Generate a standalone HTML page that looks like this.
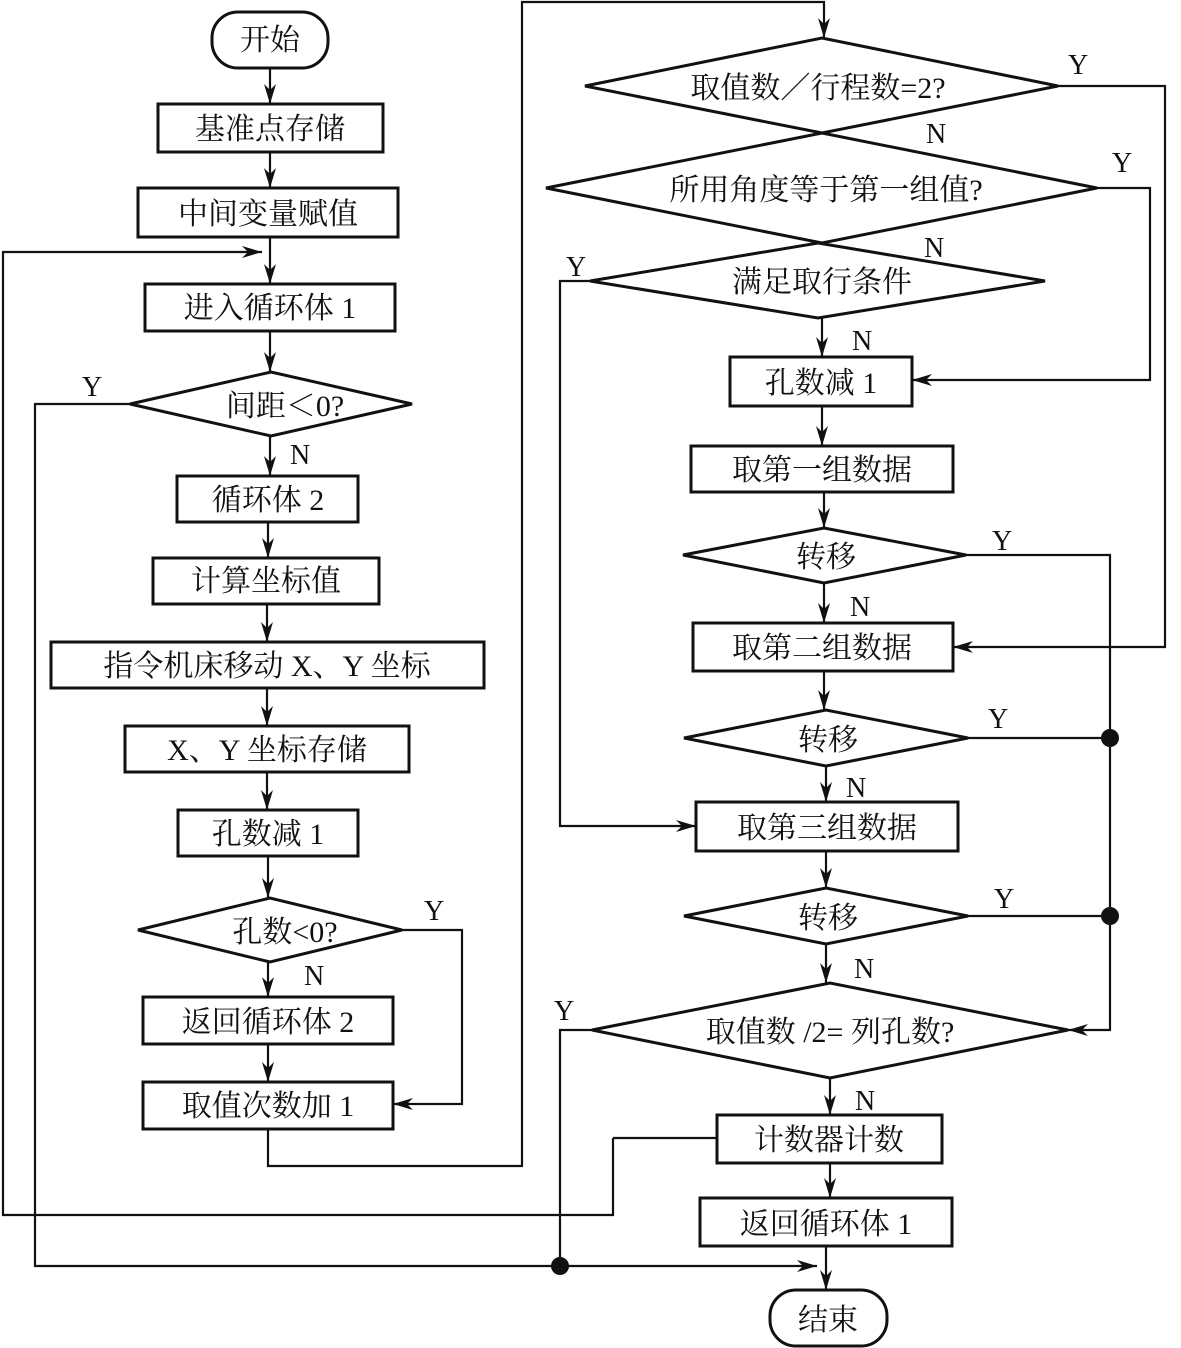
<!DOCTYPE html>
<html><head><meta charset="utf-8"><style>
html,body{margin:0;padding:0;background:#fff;}
svg{display:block;}
text{font-family:"Liberation Serif","Noto Serif CJK SC","Noto Sans CJK SC",serif;font-size:30px;fill:#111;}
.l{font-size:28px;}
</style></head><body>
<svg width="1181" height="1348" viewBox="0 0 1181 1348" xmlns="http://www.w3.org/2000/svg">
<defs>
<marker id="a" markerWidth="22" markerHeight="12" refX="20" refY="6" orient="auto" markerUnits="userSpaceOnUse">
<path d="M0,0 L20,6 L0,12 L6,6 Z" fill="#111"/>
</marker>
</defs>
<g fill="none" stroke="#111" stroke-width="3">
<!-- left column shapes -->
<rect x="212" y="12" width="116" height="56" rx="26"/>
<rect x="158" y="104" width="225" height="48"/>
<rect x="138" y="188" width="260" height="49"/>
<rect x="145" y="284" width="250" height="47"/>
<polygon points="130,404 271,372 412,404 271,436"/>
<rect x="177" y="476" width="181" height="46"/>
<rect x="153" y="558" width="226" height="46"/>
<rect x="51" y="642" width="433" height="46"/>
<rect x="125" y="726" width="284" height="46"/>
<rect x="178" y="810" width="180" height="46"/>
<polygon points="138,930 270,898 402,930 270,962"/>
<rect x="143" y="997" width="250" height="47"/>
<rect x="143" y="1082" width="250" height="47"/>
<!-- right column shapes -->
<polygon points="585,86 822,38 1058,86 822,133"/>
<polygon points="546,188 822,133 1097,188 822,243"/>
<polygon points="590,281 818,243 1045,281 818,318"/>
<rect x="730" y="357" width="182" height="49"/>
<rect x="691" y="446" width="262" height="46"/>
<polygon points="683,555 824,528 966,555 824,583"/>
<rect x="693" y="623" width="260" height="48"/>
<polygon points="684,738 826,710 968,738 826,766"/>
<rect x="696" y="802" width="262" height="49"/>
<polygon points="684,916 826,888 968,916 826,944"/>
<polygon points="592,1030 830,983 1068,1030 830,1078"/>
<rect x="717" y="1115" width="225" height="48"/>
<rect x="700" y="1198" width="252" height="48"/>
<rect x="770" y="1290" width="117" height="56" rx="26"/>
</g>
<g fill="none" stroke="#111" stroke-width="2.2">
<!-- left column flows -->
<line x1="270" y1="68" x2="270" y2="104" marker-end="url(#a)"/>
<line x1="270" y1="152" x2="270" y2="188" marker-end="url(#a)"/>
<line x1="270" y1="237" x2="270" y2="284" marker-end="url(#a)"/>
<polyline points="613,1138 613,1215 3,1215 3,252 262,252" marker-end="url(#a)"/>
<line x1="270" y1="331" x2="270" y2="372" marker-end="url(#a)"/>
<line x1="270" y1="436" x2="270" y2="476" marker-end="url(#a)"/>
<line x1="268" y1="522" x2="268" y2="558" marker-end="url(#a)"/>
<line x1="267" y1="604" x2="267" y2="642" marker-end="url(#a)"/>
<line x1="267" y1="688" x2="267" y2="726" marker-end="url(#a)"/>
<line x1="267" y1="772" x2="267" y2="810" marker-end="url(#a)"/>
<line x1="268" y1="856" x2="268" y2="898" marker-end="url(#a)"/>
<line x1="268" y1="962" x2="268" y2="997" marker-end="url(#a)"/>
<line x1="268" y1="1044" x2="268" y2="1082" marker-end="url(#a)"/>
<polyline points="402,930 462,930 462,1104 393,1104" marker-end="url(#a)"/>
<polyline points="130,404 35,404 35,1266 817,1266" marker-end="url(#a)"/>
<polyline points="268,1129 268,1166 522,1166 522,2 824,2 824,38" marker-end="url(#a)"/>
<line x1="717" y1="1138" x2="613" y2="1138"/>
<!-- right column flows -->
<polyline points="1058,86 1165,86 1165,647 953,647" marker-end="url(#a)"/>
<polyline points="1097,188 1150,188 1150,380 912,380" marker-end="url(#a)"/>
<polyline points="590,281 560,281 560,826 696,826" marker-end="url(#a)"/>
<line x1="822" y1="318" x2="822" y2="357" marker-end="url(#a)"/>
<line x1="822" y1="406" x2="822" y2="446" marker-end="url(#a)"/>
<line x1="824" y1="492" x2="824" y2="528" marker-end="url(#a)"/>
<line x1="824" y1="583" x2="824" y2="623" marker-end="url(#a)"/>
<line x1="824" y1="671" x2="824" y2="710" marker-end="url(#a)"/>
<line x1="826" y1="766" x2="826" y2="802" marker-end="url(#a)"/>
<line x1="826" y1="851" x2="826" y2="888" marker-end="url(#a)"/>
<line x1="826" y1="944" x2="826" y2="983" marker-end="url(#a)"/>
<line x1="830" y1="1078" x2="830" y2="1115" marker-end="url(#a)"/>
<line x1="830" y1="1163" x2="830" y2="1198" marker-end="url(#a)"/>
<line x1="826" y1="1246" x2="826" y2="1290" marker-end="url(#a)"/>
<polyline points="966,555 1110,555 1110,1030 1068,1030" marker-end="url(#a)"/>
<line x1="968" y1="738" x2="1110" y2="738"/>
<line x1="968" y1="916" x2="1110" y2="916"/>
<polyline points="592,1030 560,1030 560,1266"/>
</g>
<g fill="#111">
<circle cx="1110" cy="738" r="9"/>
<circle cx="1110" cy="916" r="9"/>
<circle cx="560" cy="1266" r="9"/>
</g>
<g text-anchor="middle">
<text x="270" y="50">开始</text>
<text x="270" y="139">基准点存储</text>
<text x="268" y="224">中间变量赋值</text>
<text x="270" y="318">进入循环体 1</text>
<text x="285" y="416">间距＜0?</text>
<text x="268" y="510">循环体 2</text>
<text x="266" y="591">计算坐标值</text>
<text x="267" y="676">指令机床移动 X、Y 坐标</text>
<text x="267" y="760">X、Y 坐标存储</text>
<text x="268" y="844">孔数减 1</text>
<text x="285" y="942">孔数&lt;0?</text>
<text x="268" y="1032">返回循环体 2</text>
<text x="268" y="1116">取值次数加 1</text>
<text x="818" y="98">取值数／行程数=2?</text>
<text x="826" y="200">所用角度等于第一组值?</text>
<text x="822" y="292">满足取行条件</text>
<text x="821" y="393">孔数减 1</text>
<text x="822" y="480">取第一组数据</text>
<text x="826" y="567">转移</text>
<text x="822" y="658">取第二组数据</text>
<text x="828" y="750">转移</text>
<text x="827" y="838">取第三组数据</text>
<text x="828" y="928">转移</text>
<text x="830" y="1042">取值数 /2= 列孔数?</text>
<text x="829" y="1150">计数器计数</text>
<text x="826" y="1234">返回循环体 1</text>
<text x="828" y="1330">结束</text>
</g>
<g class="l">
<text class="l" x="82" y="396">Y</text>
<text class="l" x="290" y="464">N</text>
<text class="l" x="424" y="920">Y</text>
<text class="l" x="304" y="985">N</text>
<text class="l" x="1068" y="74">Y</text>
<text class="l" x="926" y="143">N</text>
<text class="l" x="1112" y="172">Y</text>
<text class="l" x="924" y="257">N</text>
<text class="l" x="566" y="276">Y</text>
<text class="l" x="852" y="350">N</text>
<text class="l" x="992" y="550">Y</text>
<text class="l" x="850" y="616">N</text>
<text class="l" x="988" y="728">Y</text>
<text class="l" x="846" y="797">N</text>
<text class="l" x="994" y="908">Y</text>
<text class="l" x="854" y="978">N</text>
<text class="l" x="554" y="1020">Y</text>
<text class="l" x="855" y="1110">N</text>
</g>
</svg>
</body></html>
